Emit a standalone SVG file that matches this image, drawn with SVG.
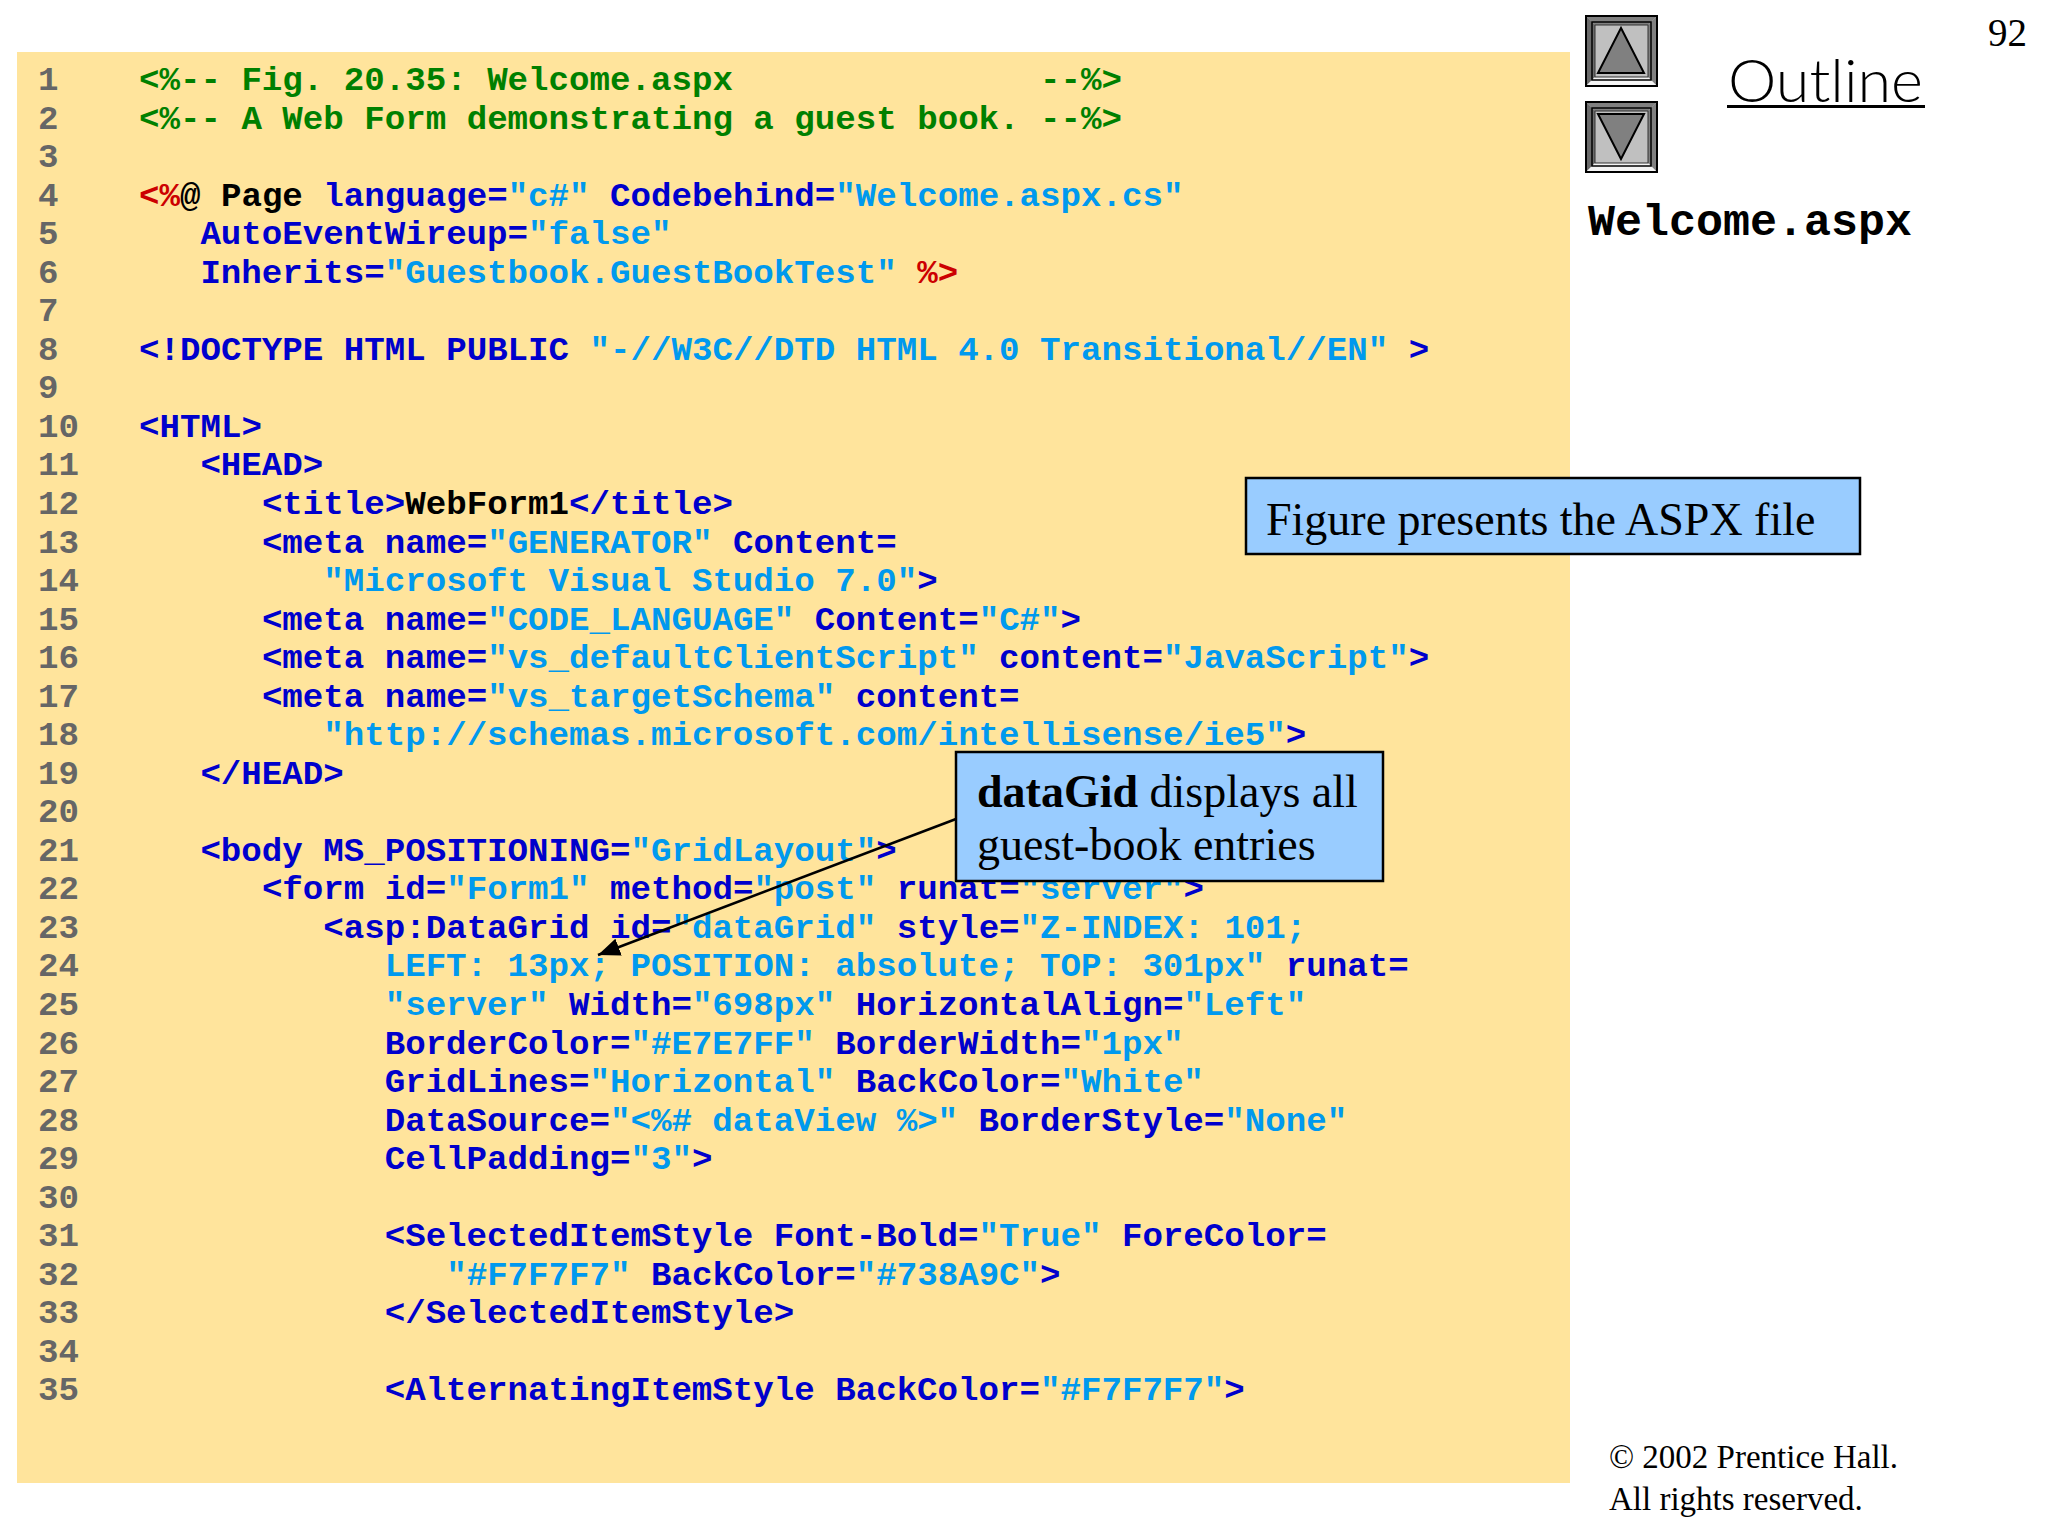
<svg xmlns="http://www.w3.org/2000/svg" width="2048" height="1536" viewBox="0 0 2048 1536">
<style>
text{white-space:pre}
.c{font-family:"Liberation Mono",monospace;font-size:34.13px;font-weight:700;fill:#0000cc}
.n{fill:#666666}
.g{fill:#008000}
.v{fill:#0099ee}
.r{fill:#cc0000}
.k{fill:#000000}
.s{font-family:"Liberation Serif",serif;fill:#000}
.box{fill:#99ccff;stroke:#000;stroke-width:2.5}
</style>
<defs>
<marker id="ah" markerUnits="userSpaceOnUse" markerWidth="24" markerHeight="20" refX="22" refY="9" orient="auto"><path d="M0 0L22 9L0 18z" fill="#000"/></marker>
<g id="btn">
<rect x="0" y="0" width="71" height="70" fill="#c0c0c0" stroke="#000" stroke-width="2"/>
<path d="M1 1H70L62 9H9z" fill="#808080"/>
<path d="M1 1V69L9 61V9z" fill="#6a6a6a"/>
<path d="M70 1V69L62 61V9z" fill="#808080"/>
<path d="M1 69H70L62 61H9z" fill="#f4f4f4"/>
<rect x="6" y="6" width="59" height="58" fill="none" stroke="#000" stroke-width="1.5"/>
<rect x="9" y="9" width="53" height="52" fill="#c0c0c0" stroke="#333" stroke-width="1"/>
</g>
</defs>
<rect width="2048" height="1536" fill="#fff"/>
<rect id="code-panel" x="17" y="52" width="1553" height="1431" fill="#ffe49c"/>
<g id="line-numbers" class="c">
<text class="c n" x="38" y="90">1</text><text class="c n" x="38" y="128.5">2</text><text class="c n" x="38" y="167.1">3</text><text class="c n" x="38" y="205.6">4</text><text class="c n" x="38" y="244.2">5</text><text class="c n" x="38" y="282.7">6</text><text class="c n" x="38" y="321.2">7</text><text class="c n" x="38" y="359.8">8</text><text class="c n" x="38" y="398.3">9</text><text class="c n" x="38" y="436.9">10</text><text class="c n" x="38" y="475.4">11</text><text class="c n" x="38" y="513.9">12</text><text class="c n" x="38" y="552.5">13</text><text class="c n" x="38" y="591">14</text><text class="c n" x="38" y="629.6">15</text><text class="c n" x="38" y="668.1">16</text><text class="c n" x="38" y="706.6">17</text><text class="c n" x="38" y="745.2">18</text><text class="c n" x="38" y="783.7">19</text><text class="c n" x="38" y="822.3">20</text><text class="c n" x="38" y="860.8">21</text><text class="c n" x="38" y="899.3">22</text><text class="c n" x="38" y="937.9">23</text><text class="c n" x="38" y="976.4">24</text><text class="c n" x="38" y="1015">25</text><text class="c n" x="38" y="1053.5">26</text><text class="c n" x="38" y="1092">27</text><text class="c n" x="38" y="1130.6">28</text><text class="c n" x="38" y="1169.1">29</text><text class="c n" x="38" y="1207.7">30</text><text class="c n" x="38" y="1246.2">31</text><text class="c n" x="38" y="1284.7">32</text><text class="c n" x="38" y="1323.3">33</text><text class="c n" x="38" y="1361.8">34</text><text class="c n" x="38" y="1400.4">35</text>
</g>
<g id="code">
<text class="c g" x="139" y="90">&lt;%-- Fig. 20.35: Welcome.aspx               --%&gt;</text>
<text class="c g" x="139" y="128.5">&lt;%-- A Web Form demonstrating a guest book. --%&gt;</text>
<text class="c" x="139" y="205.6"><tspan class="r">&lt;%</tspan><tspan class="k">@ Page</tspan> language=<tspan class="v">"c#"</tspan> Codebehind=<tspan class="v">"Welcome.aspx.cs"</tspan></text>
<text class="c" x="200.4" y="244.2">AutoEventWireup=<tspan class="v">"false"</tspan></text>
<text class="c" x="200.4" y="282.7">Inherits=<tspan class="v">"Guestbook.GuestBookTest"</tspan> <tspan class="r">%&gt;</tspan></text>
<text class="c" x="139" y="359.8">&lt;!DOCTYPE HTML PUBLIC <tspan class="v">"-//W3C//DTD HTML 4.0 Transitional//EN"</tspan> &gt;</text>
<text class="c" x="139" y="436.9">&lt;HTML&gt;</text>
<text class="c" x="200.4" y="475.4">&lt;HEAD&gt;</text>
<text class="c" x="261.9" y="513.9">&lt;title&gt;<tspan class="k">WebForm1</tspan>&lt;/title&gt;</text>
<text class="c" x="261.9" y="552.5">&lt;meta name=<tspan class="v">"GENERATOR"</tspan> Content=</text>
<text class="c" x="323.3" y="591"><tspan class="v">"Microsoft Visual Studio 7.0"</tspan>&gt;</text>
<text class="c" x="261.9" y="629.6">&lt;meta name=<tspan class="v">"CODE_LANGUAGE"</tspan> Content=<tspan class="v">"C#"</tspan>&gt;</text>
<text class="c" x="261.9" y="668.1">&lt;meta name=<tspan class="v">"vs_defaultClientScript"</tspan> content=<tspan class="v">"JavaScript"</tspan>&gt;</text>
<text class="c" x="261.9" y="706.6">&lt;meta name=<tspan class="v">"vs_targetSchema"</tspan> content=</text>
<text class="c" x="323.3" y="745.2"><tspan class="v">"http://schemas.microsoft.com/intellisense/ie5"</tspan>&gt;</text>
<text class="c" x="200.4" y="783.7">&lt;/HEAD&gt;</text>
<text class="c" x="200.4" y="860.8">&lt;body MS_POSITIONING=<tspan class="v">"GridLayout"</tspan>&gt;</text>
<text class="c" x="261.9" y="899.3">&lt;form id=<tspan class="v">"Form1"</tspan> method=<tspan class="v">"post"</tspan> runat=<tspan class="v">"server"</tspan>&gt;</text>
<text class="c" x="323.3" y="937.9">&lt;asp:DataGrid id=<tspan class="v">"dataGrid"</tspan> style=<tspan class="v">"Z-INDEX: 101;</tspan></text>
<text class="c" x="384.7" y="976.4"><tspan class="v">LEFT: 13px; POSITION: absolute; TOP: 301px"</tspan> runat=</text>
<text class="c" x="384.7" y="1015"><tspan class="v">"server"</tspan> Width=<tspan class="v">"698px"</tspan> HorizontalAlign=<tspan class="v">"Left"</tspan></text>
<text class="c" x="384.7" y="1053.5">BorderColor=<tspan class="v">"#E7E7FF"</tspan> BorderWidth=<tspan class="v">"1px"</tspan></text>
<text class="c" x="384.7" y="1092">GridLines=<tspan class="v">"Horizontal"</tspan> BackColor=<tspan class="v">"White"</tspan></text>
<text class="c" x="384.7" y="1130.6">DataSource=<tspan class="v">"&lt;%# dataView %&gt;"</tspan> BorderStyle=<tspan class="v">"None"</tspan></text>
<text class="c" x="384.7" y="1169.1">CellPadding=<tspan class="v">"3"</tspan>&gt;</text>
<text class="c" x="384.7" y="1246.2">&lt;SelectedItemStyle Font-Bold=<tspan class="v">"True"</tspan> ForeColor=</text>
<text class="c" x="446.2" y="1284.7"><tspan class="v">"#F7F7F7"</tspan> BackColor=<tspan class="v">"#738A9C"</tspan>&gt;</text>
<text class="c" x="384.7" y="1323.3">&lt;/SelectedItemStyle&gt;</text>
<text class="c" x="384.7" y="1400.4">&lt;AlternatingItemStyle BackColor=<tspan class="v">"#F7F7F7"</tspan>&gt;</text>
</g>
<g id="connectors">
<line x1="956" y1="819" x2="598" y2="955" stroke="#000" stroke-width="2.5" marker-end="url(#ah)"/>
</g>
<g id="callout-aspx">
<rect class="box" x="1246" y="478" width="614" height="76"/>
<text class="s" x="1266" y="535" font-size="46">Figure presents the ASPX file</text>
</g>
<g id="callout-datagrid">
<rect class="box" x="956" y="752" width="427" height="129"/>
<text class="s" x="977" y="807" font-size="46"><tspan font-weight="700">dataGid</tspan> displays all</text>
<text class="s" x="977" y="860" font-size="46">guest-book entries</text>
</g>
<g id="nav-up">
<use href="#btn" x="1586" y="16"/>
<polygon points="1621,28 1598,73 1644,73" fill="#808080" stroke="#000" stroke-width="2"/>
</g>
<g id="nav-down">
<use href="#btn" x="1586" y="102"/>
<polygon points="1598,114 1644,114 1621,159" fill="#808080" stroke="#000" stroke-width="2"/>
</g>
<g id="outline-title">
<text x="1728" y="102" font-family="Lato,sans-serif" font-weight="300" font-size="60" textLength="195" lengthAdjust="spacingAndGlyphs" fill="#000">Outline</text>
<rect x="1727" y="105" width="198" height="3" fill="#000"/>
</g>
<text id="page-number" class="s" x="1988" y="46" font-size="39">92</text>
<text id="file-name" x="1588" y="235" font-family="Liberation Mono,monospace" font-weight="700" font-size="45" fill="#000">Welcome.aspx</text>
<g id="copyright" class="s">
<text class="s" x="1609" y="1468" font-size="33">© 2002 Prentice Hall.</text>
<text class="s" x="1609" y="1510" font-size="33">All rights reserved.</text>
</g>
</svg>
